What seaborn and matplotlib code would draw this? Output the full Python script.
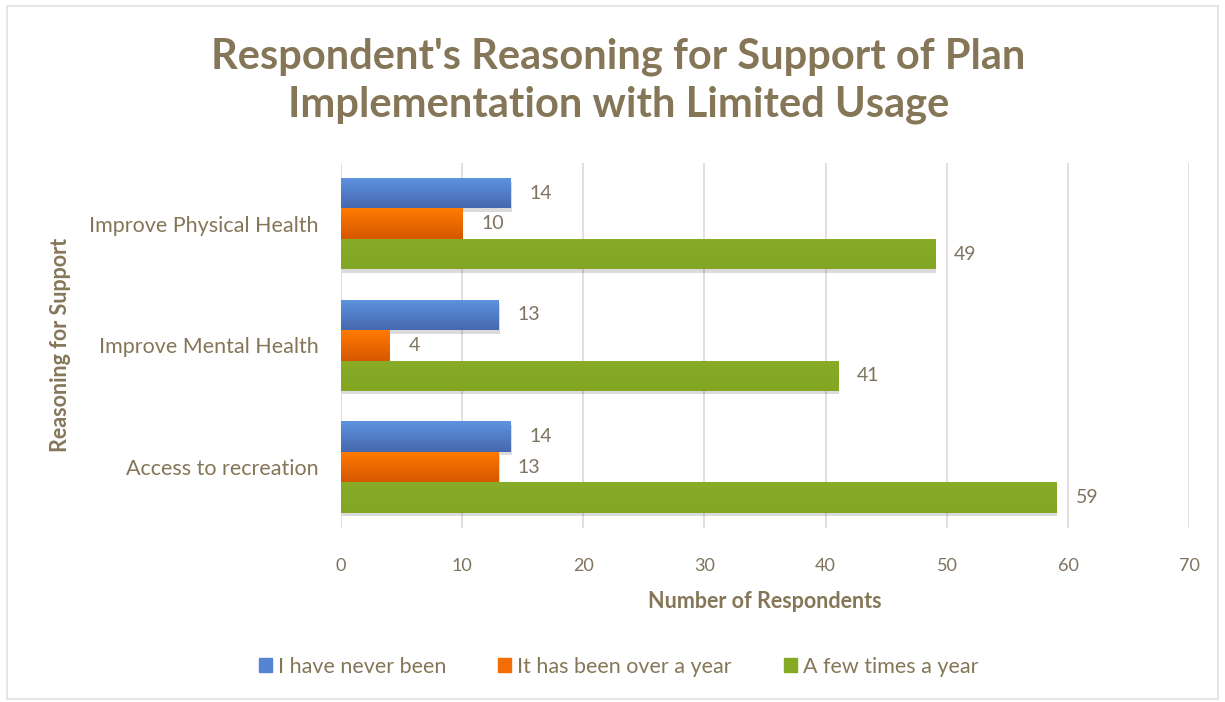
import numpy as np
import pandas as pd
import matplotlib
matplotlib.use("Agg")
import matplotlib.pyplot as plt
import matplotlib.patheffects as pe
from matplotlib.patches import Rectangle
import seaborn as sns

categories = ["Improve Physical Health", "Improve Mental Health", "Access to recreation"]
series_names = ["I have never been", "It has been over a year", "A few times a year"]
never_been = [14, 13, 14]
over_a_year = [10, 4, 13]
few_times = [49, 41, 59]
x_ticks = [0, 10, 20, 30, 40, 50, 60, 70]

title = "Respondent's Reasoning for Support of Plan\nImplementation with Limited Usage"
x_label = "Number of Respondents"
y_label = "Reasoning for Support"

colors = ["#5584D3", "#F36C06", "#86AA26"]
grad_top = ["#5E93E0", "#FF7A00", "#88AC27"]
grad_bot = ["#4668AE", "#D65800", "#82A523"]
text_col = "#857658"
label_col = "#7E735F"

rows = []
for name, vals in zip(series_names, [never_been, over_a_year, few_times]):
    for c, v in zip(categories, vals):
        rows.append({"Reason": c, "Series": name, "Count": v})
df = pd.DataFrame(rows)

sns.set_theme(style="white")
plt.rcParams["font.family"] = ["Lato", "DejaVu Sans"]

fig = plt.figure(figsize=(12.25, 7.02), dpi=100)
ax = fig.add_axes([0.278, 0.248, 0.693, 0.52])

sns.barplot(data=df, y="Reason", x="Count", hue="Series", order=categories,
            hue_order=series_names, palette=colors, width=0.75, orient="h",
            ax=ax, legend=False, linewidth=0, saturation=1)

# gradients + shadow
for ci, cont in enumerate(ax.containers):
    for p in cont.patches:
        p.set_path_effects([pe.SimplePatchShadow(offset=(1, -2.5), shadow_rgbFace="#000000", alpha=0.14),
                            pe.Normal()])
        x0, y0 = p.get_x(), p.get_y()
        w, h = p.get_width(), p.get_height()
        top = np.array(matplotlib.colors.to_rgb(grad_top[ci]))
        bot = np.array(matplotlib.colors.to_rgb(grad_bot[ci]))
        t = np.linspace(0, 1, 50)[:, None]
        img = (top * (1 - t) + bot * t)[:, None, :]
        im = ax.imshow(img, extent=(x0, x0 + w, y0 + h, y0), aspect="auto",
                       zorder=p.get_zorder() + 0.1, interpolation="bilinear")
        im.set_clip_path(p)
    ax.bar_label(cont, labels=[str(int(v)) for v in cont.datavalues], padding=14,
                 fontsize=14, color=label_col)

ax.set_xlim(0, 70)
ax.set_ylim(2.5, -0.5)
ax.set_xticks(x_ticks)
ax.set_xticklabels([str(v) for v in x_ticks], fontsize=13, color=label_col)
ax.tick_params(axis="x", pad=22, length=0)
ax.tick_params(axis="y", pad=16, length=0, labelsize=15.5, labelcolor=text_col)
ax.grid(axis="x", color="#DCDAD5", linewidth=1.2)
ax.set_axisbelow(True)
for s in ax.spines.values():
    s.set_visible(False)

ax.set_xlabel(x_label, fontsize=15.5, fontweight="bold", color=text_col, labelpad=12)
ax.set_ylabel(y_label, fontsize=15.5, fontweight="bold", color=text_col)
ax.yaxis.set_label_coords(-0.318, 0.5)

fig.text(0.505, 0.885, title, ha="center", va="center", fontsize=30, fontweight="bold",
         color=text_col, linespacing=1.3)

handles = [Rectangle((0, 0), 1, 1, color=c) for c in colors]
fig.legend(handles, series_names, loc="center", bbox_to_anchor=(0.505, 0.05), ncol=3,
           frameon=False, fontsize=15.5, labelcolor=text_col, handlelength=0.6,
           handleheight=0.6, handletextpad=0.3, columnspacing=2.4)

fig.patches.append(Rectangle((0.006, 0.004), 0.988, 0.988, transform=fig.transFigure,
                             fill=False, edgecolor="#E2E0DA", linewidth=1.2))

fig.savefig("out.png", dpi=100, facecolor="white")
